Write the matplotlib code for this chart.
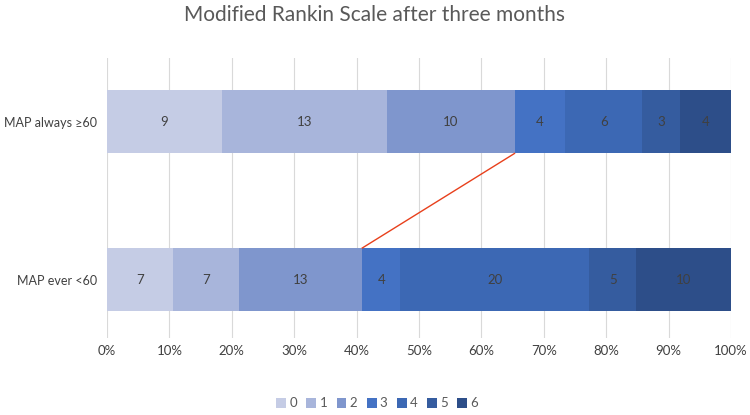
import numpy as np
import matplotlib.pyplot as plt
from matplotlib.ticker import PercentFormatter

groups = ['MAP ever <60', 'MAP always \u226560']
scores = ['0', '1', '2', '3', '4', '5', '6']
ever_below = [7, 7, 13, 4, 20, 5, 10]
always_above = [9, 13, 10, 4, 6, 3, 4]
colors = ['#c5cce5', '#a8b5db', '#7f96cd', '#4472c4', '#3c68b4', '#355c9f', '#2d4e89']

plt.rcParams['font.family'] = ['Lato', 'DejaVu Sans']

counts = np.array([ever_below, always_above], dtype=float)
shares = counts / counts.sum(axis=1, keepdims=True)
left = np.zeros(2)
h = 0.4

fig = plt.figure(figsize=(7.5, 4.15), dpi=100)
ax = fig.add_axes([0.1427, 0.186, 0.832, 0.674])

for j, s in enumerate(scores):
    ax.barh([0, 1], shares[:, j], left=left, height=h, color=colors[j], label=s, zorder=2)
    for i in range(2):
        ax.text(left[i] + shares[i, j] / 2, i, '%d' % counts[i, j], ha='center', va='center',
                fontsize=9.5, color='#404040', zorder=3)
    left = left + shares[:, j]

# series line between the end of score 2 in both bars
cum2 = shares[:, :3].sum(axis=1)
ax.plot([cum2[1], cum2[0]], [1 - h / 2, h / 2], color='#e8401c', lw=1, zorder=3)

ax.set_xlim(0, 1)
ax.set_ylim(-0.37, 1.405)
ax.set_yticks([0, 1])
ax.set_yticklabels(groups)
ax.set_xticks(np.linspace(0, 1, 11))
ax.xaxis.set_major_formatter(PercentFormatter(1.0, decimals=0))
ax.tick_params(axis='both', length=0, labelsize=9.5, colors='#404040')
ax.tick_params(axis='x', pad=5)
ax.tick_params(axis='y', pad=7, labelsize=9)
ax.grid(axis='x', color='#d9d9d9', lw=0.8, zorder=0)
for sp in ax.spines.values():
    sp.set_visible(False)

fig.text(0.5, 0.963, 'Modified Rankin Scale after three months', fontsize=15, color='#595959',
         ha='center', va='center')

fig.legend(loc='lower center', ncol=7, frameon=False, fontsize=9.5, bbox_to_anchor=(0.503, -0.015),
           handlelength=0.75, handleheight=0.75, handletextpad=0.25, columnspacing=0.7,
           labelcolor='#595959')

fig.savefig('out.png')
